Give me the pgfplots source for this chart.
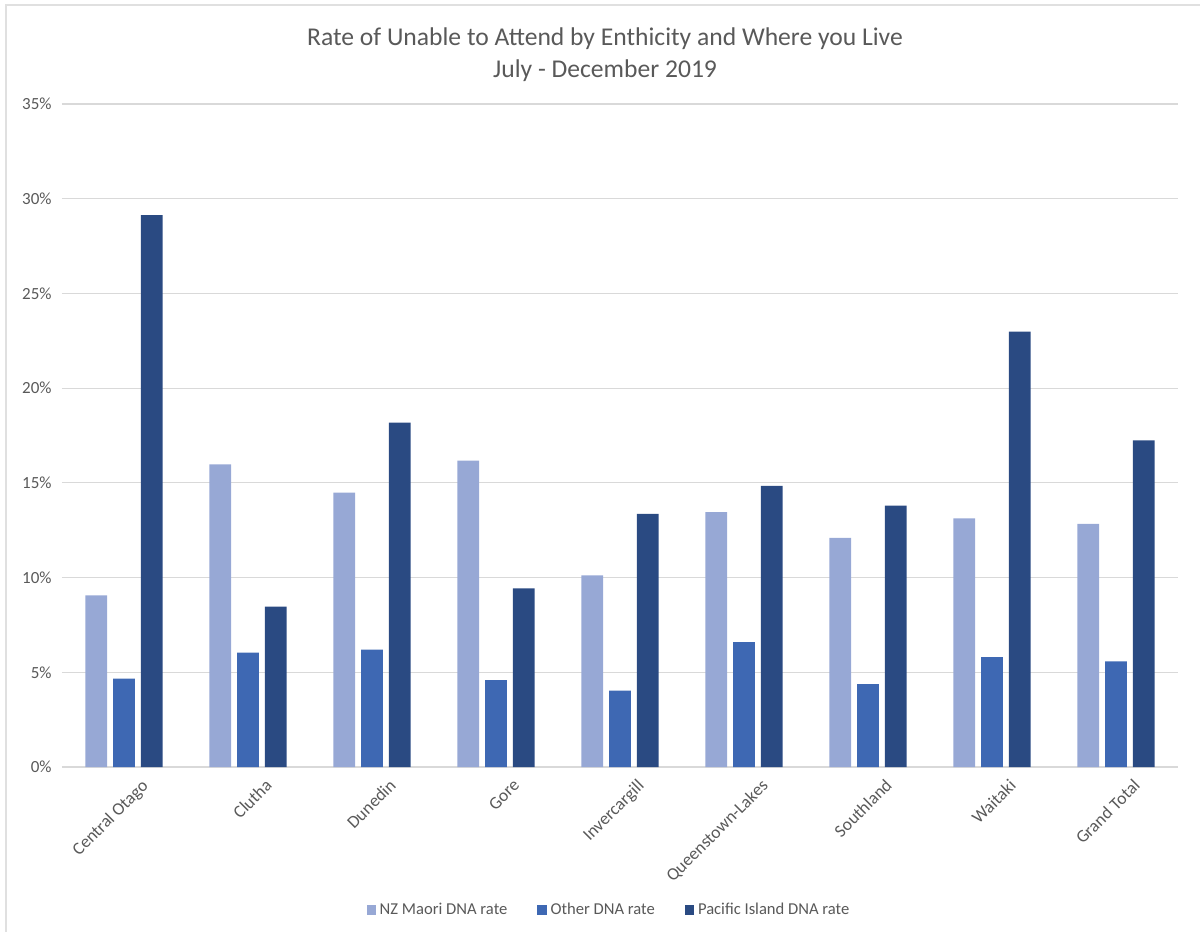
\documentclass[border=0pt]{standalone}
\usepackage{pgfplots}
\pgfplotsset{compat=1.18}
\usepackage{fontspec}
\setmainfont{Carlito}

\definecolor{maori}{RGB}{151,168,213}
\definecolor{other}{RGB}{62,104,179}
\definecolor{pacific}{RGB}{42,74,130}
\definecolor{txt}{RGB}{89,89,89}
\definecolor{grid}{RGB}{217,217,217}

\begin{document}
\begin{tikzpicture}
% page frame
\path[use as bounding box] (0,0) rectangle (600pt,466pt);
\draw[color=black!12, line width=0.6pt] (3pt,0pt) -- (3pt,463.5pt) -- (600pt,463.5pt);

\begin{axis}[
    scale only axis,
    width=558pt, height=331.5pt,
    at={(31pt,82.5pt)}, anchor=south west,
    ybar=3pt, bar width=10.85pt,
    xmin=-0.5, xmax=8.5,
    ymin=0, ymax=35,
    xtick={0,...,8},
    xticklabels={Central Otago,Clutha,Dunedin,Gore,Invercargill,Queenstown-Lakes,Southland,Waitaki,Grand Total},
    xticklabel style={rotate=45, anchor=north east, font=\fontsize{8.8pt}{10pt}\selectfont, text=txt, inner sep=0pt, yshift=-9.5pt, xshift=2pt},
    ytick={0,5,10,15,20,25,30,35},
    yticklabels={0\%,5\%,10\%,15\%,20\%,25\%,30\%,35\%},
    yticklabel style={font=\fontsize{8.5pt}{10pt}\selectfont, text=txt, anchor=east, inner sep=0pt, xshift=-5pt},
    major tick length=0pt,
    axis line style={draw=none},
    ymajorgrids,
    grid style={color=grid, line width=0.6pt},
    title={Rate of Unable to Attend by Enthicity and Where you Live\\July - December 2019},
    title style={align=center, font=\fontsize{12.8pt}{16pt}\selectfont, text=txt, at={(0.4866,1.0558)}, anchor=center},
    legend style={at={(0.491,-0.216)}, anchor=center, draw=none, legend columns=3,
        font=\fontsize{8.3pt}{10pt}\selectfont, text=txt,
        /tikz/every even column/.append style={column sep=13pt}},
    legend image code/.code={\fill[#1] (0pt,-2.4pt) rectangle (4.6pt,2.4pt);},
]
\addplot[fill=maori, draw=none] coordinates {(0,9.06) (1,15.97) (2,14.49) (3,16.18) (4,10.12) (5,13.45) (6,12.10) (7,13.13) (8,12.84)};
\addplot[fill=other, draw=none] coordinates {(0,4.66) (1,6.04) (2,6.20) (3,4.58) (4,4.03) (5,6.59) (6,4.38) (7,5.80) (8,5.57)};
\addplot[fill=pacific, draw=none] coordinates {(0,29.13) (1,8.47) (2,18.18) (3,9.43) (4,13.36) (5,14.84) (6,13.80) (7,22.99) (8,17.24)};
\legend{NZ Maori DNA rate, Other DNA rate, Pacific Island DNA rate}
\end{axis}
\end{tikzpicture}
\end{document}
